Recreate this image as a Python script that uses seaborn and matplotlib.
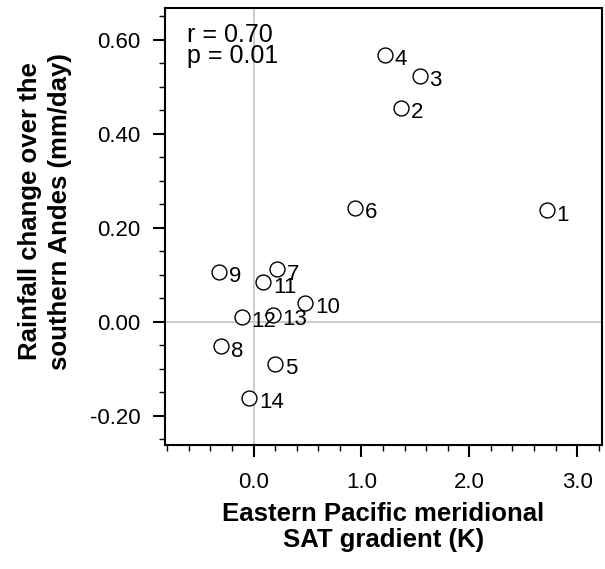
import pandas as pd
import matplotlib.pyplot as plt
import seaborn as sns
from matplotlib.ticker import MultipleLocator

# model data
model_ids = [str(i) for i in range(1, 15)]
sat_gradient = [2.72, 1.37, 1.54, 1.22, 0.20, 0.94, 0.22, -0.30, -0.32, 0.48, 0.09, -0.11, 0.18, -0.04]
rain_change = [0.237, 0.456, 0.523, 0.568, -0.089, 0.242, 0.112, -0.052, 0.107, 0.040, 0.084, 0.011, 0.015, -0.162]
stats_lines = ["r = 0.70", "p = 0.01"]

df = pd.DataFrame({"model": model_ids, "sat": sat_gradient, "rain": rain_change})

sns.set_style("ticks")
plt.rcParams["font.family"] = ["Liberation Sans", "DejaVu Sans"]

fig = plt.figure(figsize=(6.05, 5.69), dpi=100)
ax = fig.add_axes([0.273, 0.218, 0.722, 0.768])

# reference lines through zero
ax.axvline(0, color="#c4c4c4", lw=1.2, zorder=0)
ax.axhline(0, color="#c4c4c4", lw=1.2, zorder=0)

sns.scatterplot(data=df, x="sat", y="rain", ax=ax, s=115, marker="o",
                facecolor="white", edgecolor="black", linewidth=1.0, zorder=3)

for _, row in df.iterrows():
    ax.annotate(row["model"], (row["sat"], row["rain"]), xytext=(7, -3.5),
                textcoords="offset points", ha="left", va="center",
                fontsize=16, color="black")

ax.text(0.05, 0.922, stats_lines[0], transform=ax.transAxes, ha="left",
        va="baseline", fontsize=18, color="black")
ax.text(0.05, 0.874, stats_lines[1], transform=ax.transAxes, ha="left",
        va="baseline", fontsize=18, color="black")

ax.set_xlim(-0.82, 3.23)
ax.set_ylim(-0.262, 0.668)
ax.xaxis.set_major_locator(MultipleLocator(1.0))
ax.xaxis.set_minor_locator(MultipleLocator(0.2))
ax.yaxis.set_major_locator(MultipleLocator(0.2))
ax.yaxis.set_minor_locator(MultipleLocator(0.05))
ax.xaxis.set_major_formatter(plt.FormatStrFormatter("%.1f"))
ax.yaxis.set_major_formatter(plt.FormatStrFormatter("%.2f"))
ax.tick_params(which="major", length=8.5, width=1.5, labelsize=16,
               direction="out", color="black", labelcolor="black")
ax.tick_params(which="minor", length=4.3, width=1.0, direction="out", color="black")
ax.tick_params(axis="x", which="major", pad=11)
ax.tick_params(axis="y", which="major", pad=9)
for sp in ax.spines.values():
    sp.set_linewidth(1.5)
    sp.set_color("black")

ax.set_xlabel("Eastern Pacific meridional\nSAT gradient (K)", fontsize=18.5,
              fontweight="bold", color="black", linespacing=1.1)
ax.set_ylabel("Rainfall change over the\nsouthern Andes (mm/day)", fontsize=18.5,
              fontweight="bold", color="black", linespacing=1.3)
ax.xaxis.set_label_coords(0.5, -0.13)
ax.yaxis.set_label_coords(-0.213, 0.535)

fig.savefig("out.png", dpi=100)
